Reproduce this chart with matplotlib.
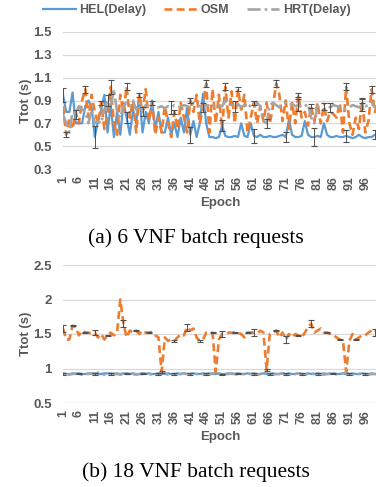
import matplotlib
matplotlib.use("Agg")
import matplotlib.pyplot as plt
import numpy as np

# ---------------------------------------------------------------------------
# Data
# ---------------------------------------------------------------------------

epochs = list(range(1, 101))
tick_epochs = list(range(1, 100, 5))

# (a) 6 VNF batch requests
hel_a = [0.95, 0.80, 0.80, 0.97, 0.70, 0.70, 0.70, 0.85, 0.90, 0.84,
         0.58, 0.72, 0.82, 0.95, 0.62, 0.86, 0.58, 0.80, 0.60, 0.88,
         0.75, 0.60, 0.82, 0.70, 0.95, 0.62, 0.80, 0.70, 0.90, 0.65,
         0.80, 0.62, 0.62, 0.75, 0.60, 0.70, 0.58, 0.75, 0.62, 0.84,
         0.60, 0.72, 0.58, 0.70, 0.96, 0.70, 0.58, 0.58, 0.57, 0.58,
         0.68, 0.59, 0.58, 0.58, 0.59, 0.58, 0.70, 0.59, 0.58, 0.70,
         0.59, 0.58, 0.60, 0.58, 0.58, 0.59, 0.58, 0.58, 0.59, 0.60,
         0.58, 0.73, 0.60, 0.58, 0.58, 0.59, 0.72, 0.60, 0.58, 0.58,
         0.59, 0.58, 0.70, 0.60, 0.58, 0.58, 0.59, 0.58, 0.58, 0.59,
         0.58, 0.57, 0.58, 0.60, 0.58, 0.57, 0.58, 0.58, 0.60, 0.58]
osm_a = [0.85, 0.60, 0.75, 0.65, 0.80, 0.70, 0.90, 1.00, 0.75, 0.95,
         0.80, 0.70, 0.88, 0.65, 0.78, 1.02, 0.70, 0.60, 0.95, 0.80,
         1.02, 0.75, 0.90, 0.62, 0.95, 0.80, 1.00, 0.72, 0.88, 0.60,
         0.75, 0.62, 0.85, 0.70, 0.58, 0.80, 0.65, 0.88, 0.75, 0.62,
         0.90, 0.80, 0.95, 0.70, 0.85, 1.05, 0.62, 1.00, 0.70, 0.95,
         0.65, 1.02, 0.75, 0.98, 0.70, 1.00, 0.82, 0.95, 0.62, 0.75,
         0.88, 0.70, 0.85, 0.72, 0.88, 0.70, 0.85, 1.05, 0.95, 0.72,
         0.90, 0.65, 0.88, 0.70, 0.95, 0.75, 0.80, 0.68, 0.85, 0.72,
         0.88, 0.70, 0.85, 0.72, 0.80, 0.78, 0.75, 0.88, 0.62, 1.02,
         0.70, 0.60, 0.75, 0.65, 0.90, 0.62, 0.72, 1.00, 0.80, 0.88]
hrt_a = [0.78, 0.70, 0.62, 0.80, 0.78, 0.85, 0.82, 0.80, 0.70, 0.82,
         0.70, 0.72, 0.70, 0.82, 0.90, 0.85, 1.00, 0.80, 0.75, 0.85,
         0.88, 0.85, 0.90, 0.82, 0.88, 0.80, 0.86, 0.84, 0.85, 0.84,
         0.84, 0.85, 0.83, 0.85, 0.84, 0.86, 0.85, 0.84, 0.86, 0.85,
         0.84, 0.88, 0.86, 0.85, 0.84, 0.86, 0.85, 0.84, 0.87, 0.86,
         0.85, 0.90, 0.88, 0.86, 0.85, 0.87, 0.84, 0.86, 0.88, 0.84,
         0.86, 0.88, 0.85, 0.72, 0.70, 0.86, 0.88, 0.86, 0.84, 0.87,
         0.88, 0.86, 0.87, 0.85, 0.86, 0.84, 0.85, 0.87, 0.75, 0.70,
         0.85, 0.86, 0.87, 0.85, 0.84, 0.86, 0.85, 0.84, 0.82, 0.83,
         0.84, 0.86, 0.85, 0.84, 0.86, 0.85, 0.86, 0.88, 0.84, 0.86]

# (b) 18 VNF batch requests
hel_b = [0.93, 0.92, 0.92, 0.93, 0.92, 0.93, 0.92, 0.92, 0.93, 0.92,
         0.93, 0.92, 0.92, 0.93, 0.93, 0.92, 0.92, 0.93, 0.92, 0.93,
         0.92, 0.92, 0.93, 0.92, 0.92, 0.93, 0.92, 0.93, 0.92, 0.92,
         0.93, 0.92, 0.92, 0.93, 0.92, 0.92, 0.93, 0.92, 0.93, 0.92,
         0.92, 0.93, 0.92, 0.92, 0.93, 0.92, 0.93, 0.92, 0.92, 0.93,
         0.92, 0.92, 0.93, 0.92, 0.92, 0.93, 0.92, 0.92, 0.93, 0.92,
         0.93, 0.92, 0.92, 0.93, 0.92, 0.92, 0.93, 0.92, 0.92, 0.93,
         0.92, 0.93, 0.92, 0.92, 0.93, 0.92, 0.92, 0.93, 0.92, 0.92,
         0.93, 0.92, 0.93, 0.92, 0.92, 0.93, 0.92, 0.92, 0.93, 0.92,
         0.92, 0.93, 0.92, 0.92, 0.93, 0.92, 0.92, 0.93, 0.92, 0.92]
osm_b = [1.58, 1.42, 1.42, 1.62, 1.60, 1.48, 1.55, 1.52, 1.52, 1.50,
         1.52, 1.45, 1.50, 1.42, 1.48, 1.52, 1.48, 1.52, 2.00, 1.65,
         1.45, 1.55, 1.52, 1.55, 1.50, 1.55, 1.52, 1.52, 1.53, 1.48,
         1.45, 0.95, 1.45, 1.40, 1.42, 1.40, 1.45, 1.50, 1.48, 1.60,
         1.55, 1.58, 1.45, 1.40, 1.42, 1.52, 1.52, 1.52, 0.95, 1.42,
         1.50, 1.50, 1.52, 1.52, 1.52, 1.52, 1.50, 1.45, 1.52, 1.52,
         1.52, 1.50, 1.55, 1.52, 0.98, 1.50, 1.52, 1.55, 1.45, 1.52,
         1.42, 1.50, 1.45, 1.50, 1.48, 1.45, 1.52, 1.60, 1.65, 1.52,
         1.55, 1.58, 1.52, 1.52, 1.50, 1.48, 1.45, 1.42, 1.40, 0.95,
         1.40, 1.50, 1.42, 1.45, 1.48, 1.48, 1.52, 1.55, 1.52, 1.58]
hrt_b = [0.92, 0.92, 0.91, 0.92, 0.93, 0.92, 0.91, 0.92, 0.92, 0.93,
         0.92, 0.94, 0.92, 0.91, 0.92, 0.93, 0.92, 0.92, 0.91, 0.92,
         0.93, 0.92, 0.92, 0.91, 0.92, 0.92, 0.93, 0.92, 0.91, 0.92,
         0.92, 0.94, 0.93, 0.91, 0.92, 0.92, 0.91, 0.92, 0.93, 0.92,
         0.92, 0.91, 0.92, 0.93, 0.92, 0.92, 0.91, 0.93, 0.94, 0.92,
         0.91, 0.92, 0.92, 0.93, 0.92, 0.91, 0.92, 0.92, 0.93, 0.92,
         0.92, 0.91, 0.92, 0.93, 0.94, 0.92, 0.91, 0.92, 0.92, 0.93,
         0.92, 0.91, 0.92, 0.92, 0.93, 0.92, 0.91, 0.92, 0.92, 0.93,
         0.92, 0.92, 0.91, 0.92, 0.93, 0.92, 0.92, 0.91, 0.93, 0.94,
         0.92, 0.91, 0.92, 0.92, 0.93, 0.92, 0.91, 0.92, 0.92, 0.92]

# error bars {epoch: half-height}, only where the picture shows them
err_a = {
    "HEL(Delay)": {1: 0.06, 11: 0.10, 21: 0.05, 41: 0.07, 51: 0.05, 61: 0.06,
                   71: 0.04, 80: 0.08, 90: 0.05, 99: 0.04},
    "OSM": {2: 0.02, 8: 0.03, 13: 0.02, 16: 0.06, 21: 0.03, 25: 0.02,
            29: 0.02, 36: 0.02, 41: 0.02, 46: 0.03, 52: 0.03, 56: 0.02,
            61: 0.02, 68: 0.03, 75: 0.02, 79: 0.02, 83: 0.03, 90: 0.03,
            95: 0.02, 98: 0.03},
    "HRT(Delay)": {5: 0.04, 15: 0.05, 26: 0.04, 35: 0.06, 45: 0.04,
                   55: 0.05, 65: 0.04, 75: 0.05, 85: 0.04, 95: 0.05},
}
err_b = {
    "HEL(Delay)": {6: 0.01, 16: 0.01, 26: 0.01, 36: 0.01, 46: 0.01,
                   56: 0.01, 66: 0.01, 76: 0.01, 86: 0.01, 96: 0.01},
    "OSM": {1: 0.05, 4: 0.01, 8: 0.01, 11: 0.04, 15: 0.01, 20: 0.05,
            24: 0.01, 28: 0.01, 32: 0.01, 36: 0.01, 40: 0.05, 44: 0.01,
            48: 0.01, 51: 0.05, 55: 0.01, 59: 0.01, 61: 0.05, 65: 0.01,
            68: 0.01, 71: 0.05, 75: 0.01, 79: 0.05, 84: 0.01, 88: 0.01,
            93: 0.01, 99: 0.05},
    "HRT(Delay)": {1: 0.01, 11: 0.01, 21: 0.01, 31: 0.01, 41: 0.01,
                   51: 0.01, 61: 0.01, 71: 0.01, 81: 0.01, 91: 0.01},
}

captions = ["(a) 6 VNF batch requests", "(b) 18 VNF batch requests"]

# ---------------------------------------------------------------------------
# Styling
# ---------------------------------------------------------------------------

colors = {"HEL(Delay)": "#5B9BD5", "OSM": "#ED7D31", "HRT(Delay)": "#A5A5A5"}
styles = {"HEL(Delay)": dict(linestyle="-", linewidth=1.6),
          "OSM": dict(linestyle=(0, (3.0, 1.6)), linewidth=1.9),
          "HRT(Delay)": dict(linestyle=(0, (5.0, 1.5, 1.0, 1.5)), linewidth=1.9)}
text_grey = "#595959"
plt.rcParams["font.family"] = ["Liberation Sans", "DejaVu Sans"]

W, H = 376, 487
fig = plt.figure(figsize=(W / 100, H / 100), dpi=100)


def px_axes(x0, x1, ytop, ybot):
    return fig.add_axes([x0 / W, 1 - ybot / H, (x1 - x0) / W, (ybot - ytop) / H])


def draw_panel(ax, series, errs, ylim, yticks, ytick_fmt):
    for name, vals in series:
        ax.plot(epochs, vals, color=colors[name], label=name, zorder=3,
                **styles[name])
        pts = sorted(errs[name])
        ax.errorbar(pts, [vals[e - 1] for e in pts],
                    yerr=[errs[name][e] for e in pts], fmt="none",
                    ecolor="#505050", elinewidth=0.7, capsize=2.2,
                    capthick=0.8, zorder=4)
    ax.set_xlim(1, 100)
    ax.set_ylim(*ylim)
    ax.set_yticks(yticks)
    ax.set_yticklabels([ytick_fmt(v) for v in yticks])
    ax.set_xticks(tick_epochs)
    ax.set_xticklabels([str(e) for e in tick_epochs], rotation=90)
    ax.grid(axis="y", color="#D9D9D9", linewidth=0.9)
    ax.set_axisbelow(True)
    for s in ax.spines.values():
        s.set_visible(False)
    ax.tick_params(axis="y", length=0, pad=8, colors=text_grey, labelsize=9.5)
    ax.tick_params(axis="x", length=0, pad=5, colors=text_grey, labelsize=9.0)
    for lab in ax.get_xticklabels() + ax.get_yticklabels():
        lab.set_fontweight("bold")
    ax.set_xlabel("Epoch", fontsize=9.5, fontweight="bold", color=text_grey, labelpad=5)
    ax.set_ylabel("Ttot (s)", fontsize=9.5, fontweight="bold", color=text_grey, labelpad=1)


ax_a = px_axes(63, 378, 32, 169)
draw_panel(ax_a, [("HEL(Delay)", hel_a), ("OSM", osm_a), ("HRT(Delay)", hrt_a)],
           err_a, (0.3, 1.5), [0.3, 0.5, 0.7, 0.9, 1.1, 1.3, 1.5],
           lambda v: f"{v:.1f}")

ax_b = px_axes(63, 378, 265, 403)
draw_panel(ax_b, [("HEL(Delay)", hel_b), ("OSM", osm_b), ("HRT(Delay)", hrt_b)],
           err_b, (0.5, 2.5), [0.5, 1.0, 1.5, 2.0, 2.5],
           lambda v: f"{v:g}")

handles, labels = ax_a.get_legend_handles_labels()
fig.legend(handles, labels, loc="center", bbox_to_anchor=(197 / W, 1 - 10 / H),
           ncol=3, frameon=False, handlelength=2.6, columnspacing=1.4,
           handletextpad=0.3, prop=dict(weight="bold", size=9),
           labelcolor=text_grey)

for cap, yc in zip(captions, [238, 472]):
    fig.text(196 / W, 1 - yc / H, cap, ha="center", va="center",
             family=["Liberation Serif", "DejaVu Serif"], fontsize=15.5)

fig.savefig("out.png", dpi=100)
